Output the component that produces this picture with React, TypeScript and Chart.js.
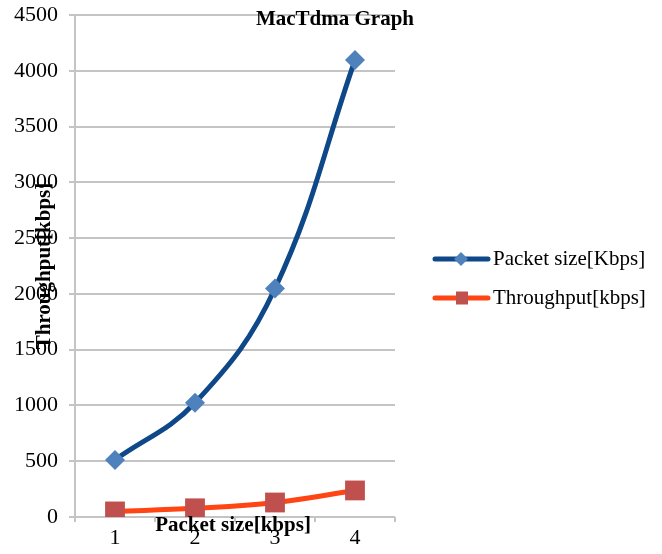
import React, { useEffect, useRef } from "react";
import { Chart, registerables } from "chart.js";

Chart.register(...registerables);

const categories = ["1", "2", "3", "4"];
const packetSize = [512, 1024, 2048, 4096];
const throughput = [50, 78, 130, 238];
const yTicks = [0, 500, 1000, 1500, 2000, 2500, 3000, 3500, 4000, 4500];

const chartTitle = "MacTdma Graph";
const xTitle = "Packet size[kbps]";
const yTitle = "Throughput[kbps]";
const seriesNames = ["Packet size[Kbps]", "Throughput[kbps]"];

const FONT = "'Liberation Serif', 'Times New Roman', serif";
const BLUE_LINE = "#0E4888";
const BLUE_MARK = "#4F81BD";
const ORANGE_LINE = "#FF4513";
const RED_MARK = "#C0504D";
const GRID = "#C4C4C4";

// Draws the chart title, both axis titles and the line-style legend.
const annotations = {
  id: "annotations",
  afterDraw(chart: any) {
    const ctx = chart.ctx as CanvasRenderingContext2D;
    const area = chart.chartArea;
    ctx.save();

    ctx.fillStyle = "#000";
    ctx.font = `bold 21px ${FONT}`;
    ctx.textAlign = "center";
    ctx.textBaseline = "middle";
    ctx.fillText(chartTitle, 335, 20);

    ctx.fillText(xTitle, 233, area.bottom + 9);

    ctx.save();
    ctx.translate(45, (area.top + area.bottom) / 2);
    ctx.rotate(-Math.PI / 2);
    ctx.fillText(yTitle, 0, 0);
    ctx.restore();

    const rows = [
      { y: 259, line: BLUE_LINE, mark: BLUE_MARK, shape: "diamond" },
      { y: 298, line: ORANGE_LINE, mark: RED_MARK, shape: "square" },
    ];
    rows.forEach((r, i) => {
      ctx.strokeStyle = r.line;
      ctx.lineWidth = 5;
      ctx.lineCap = "round";
      ctx.beginPath();
      ctx.moveTo(435, r.y);
      ctx.lineTo(488, r.y);
      ctx.stroke();
      ctx.fillStyle = r.mark;
      ctx.beginPath();
      if (r.shape === "diamond") {
        ctx.moveTo(461 - 7, r.y);
        ctx.lineTo(461, r.y - 7);
        ctx.lineTo(461 + 7, r.y);
        ctx.lineTo(461, r.y + 7);
        ctx.closePath();
      } else {
        ctx.rect(456, r.y - 6.5, 12, 13);
      }
      ctx.fill();
      ctx.fillStyle = "#000";
      ctx.font = `21px ${FONT}`;
      ctx.textAlign = "left";
      ctx.fillText(seriesNames[i], 493, r.y);
    });

    ctx.restore();
  },
};

export default function App() {
  const ref = useRef<HTMLCanvasElement | null>(null);

  useEffect(() => {
    if (!ref.current) return;
    const chart = new Chart(ref.current, {
      type: "line",
      data: {
        labels: categories,
        datasets: [
          {
            label: seriesNames[0],
            data: packetSize,
            borderColor: BLUE_LINE,
            borderWidth: 5,
            tension: 0.4,
            pointStyle: "rectRot",
            pointRadius: 10,
            pointBackgroundColor: BLUE_MARK,
            pointBorderColor: BLUE_MARK,
            pointBorderWidth: 0,
          },
          {
            label: seriesNames[1],
            data: throughput,
            borderColor: ORANGE_LINE,
            borderWidth: 5,
            tension: 0.4,
            pointStyle: "rect",
            pointRadius: 14,
            pointBackgroundColor: RED_MARK,
            pointBorderColor: RED_MARK,
            pointBorderWidth: 0,
          },
        ],
      },
      options: {
        responsive: false,
        animation: false,
        layout: { padding: { left: 0, right: 267, top: 15, bottom: 0 } },
        plugins: {
          legend: { display: false },
          title: { display: false },
          tooltip: { enabled: false },
        },
        scales: {
          x: {
            type: "category",
            offset: true,
            grid: {
              offset: true,
              color: (c: any) => (c.index === 0 || c.index === 4 ? GRID : "transparent"),
              tickColor: GRID,
              lineWidth: 2,
              tickLength: 5,
            },
            border: { display: false },
            ticks: {
              color: "#000",
              font: { family: FONT, size: 22 },
              padding: 3,
              maxRotation: 0,
            },
            afterFit: (s: any) => {
              s.height = 37;
              s.paddingLeft = 0;
              s.paddingRight = 0;
            },
          },
          y: {
            min: 0,
            max: 4500,
            afterBuildTicks: (s: any) => {
              s.ticks = yTicks.map((v) => ({ value: v }));
            },
            grid: {
              color: GRID,
              lineWidth: 2,
              tickLength: 6,
            },
            border: { color: GRID, width: 2 },
            ticks: {
              color: "#000",
              font: { family: FONT, size: 22 },
              padding: 11,
              callback: (v: any) => String(v),
            },
            afterFit: (s: any) => {
              s.width = 75;
              s.paddingTop = 0;
              s.paddingBottom = 0;
            },
          },
        },
      },
      plugins: [annotations],
    });
    return () => chart.destroy();
  }, []);

  return (
    <div style={{ position: "absolute", left: 0, top: 0, width: 662, height: 554, background: "#fff" }}>
      <canvas ref={ref} width={662} height={554} />
    </div>
  );
}
